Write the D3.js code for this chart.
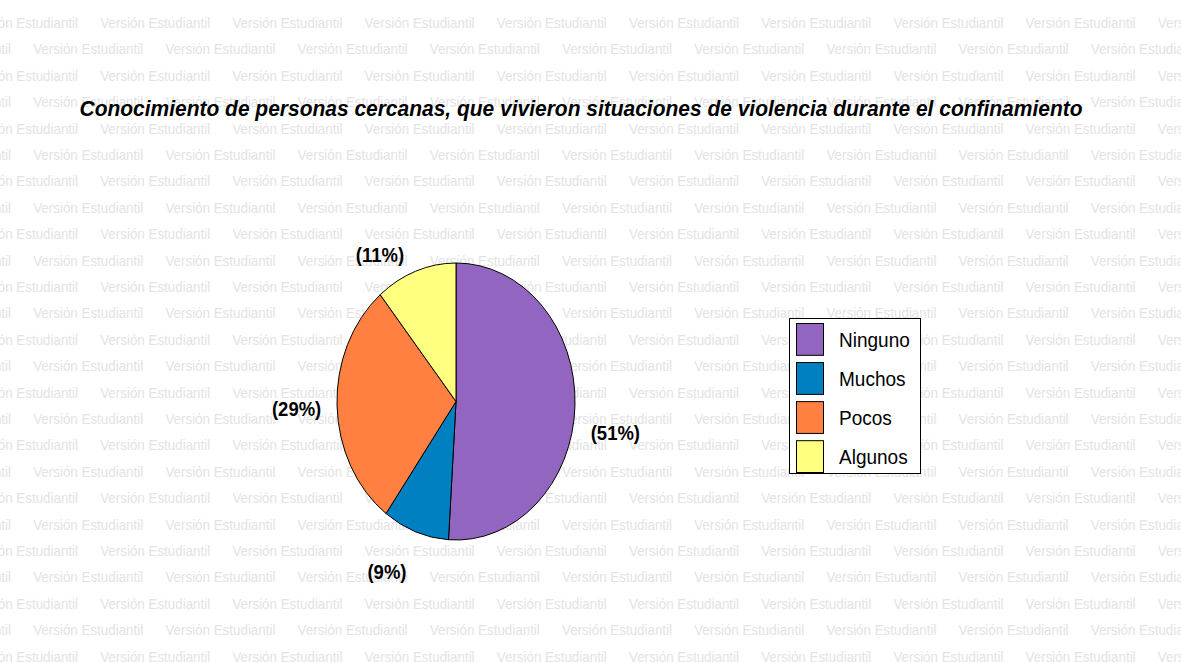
<!DOCTYPE html>
<html>
<head>
<meta charset="utf-8">
<script src="https://cdn.jsdelivr.net/npm/d3@7"></script>
<style>
  html, body { margin: 0; padding: 0; background: #fff; }
  svg { display: block; }
</style>
</head>
<body>
<svg id="chart" width="1181" height="662"></svg>
<script>
// Survey answers and their shares (percent)
const categories = ["Ninguno", "Muchos", "Pocos", "Algunos"];
const shares = [51, 9, 29, 11];
const sliceColors = ["#9266C0", "#0080C0", "#FF8040", "#FFFF80"];
const title = "Conocimiento de personas cercanas, que vivieron situaciones de violencia durante el confinamiento";
const watermark = "Versión Estudiantil";

const W = 1181, H = 662;
const svg = d3.select("#chart");
const FONT = "'Liberation Sans', Arial, sans-serif";

// Background watermark grid
const wm = svg.append("g").attr("class", "watermark");
const rowPitch = 26.4, colPitch = 132.2;
for (let r = 0; r < 25; r++) {
  const y = 28 + r * rowPitch;
  const x0 = (r % 2 === 0) ? -32 : -99;
  for (let x = x0; x < W; x += colPitch) {
    wm.append("text")
      .attr("x", x).attr("y", y)
      .attr("textLength", 110).attr("lengthAdjust", "spacingAndGlyphs")
      .style("font-family", FONT)
      .style("font-size", "15px")
      .style("fill", "#e3e3e3")
      .text(watermark);
  }
}

// Title
svg.append("text")
  .attr("x", 581).attr("y", 116)
  .attr("text-anchor", "middle")
  .attr("textLength", 1003).attr("lengthAdjust", "spacingAndGlyphs")
  .style("font-family", FONT)
  .style("font-weight", "bold").style("font-style", "italic")
  .style("font-size", "22px")
  .style("fill", "#000")
  .text(title);

// Elliptical pie: unit-radius arcs stretched to the ellipse
const cx = 456, cy = 401.5, rx = 119, ry = 138.5;
const pie = d3.pie().sort(null).value(d => d.value);
const data = categories.map((c, i) => ({ name: c, value: shares[i], color: sliceColors[i] }));
const arcs = pie(data);
const arc = d3.arc().innerRadius(0).outerRadius(1);

const pieG = svg.append("g")
  .attr("transform", `translate(${cx},${cy}) scale(${rx},${ry})`);
pieG.selectAll("path")
  .data(arcs)
  .join("path")
  .attr("d", arc)
  .attr("fill", d => d.data.color)
  .attr("stroke", "#000")
  .attr("stroke-width", 1)
  .attr("vector-effect", "non-scaling-stroke");

// Percentage labels around the pie (narrowed slightly)
const labelShift = { Ninguno: [0, 25], Muchos: [-15, 4], Pocos: [0, 1], Algunos: [-22, 18] };
const labels = svg.append("g").selectAll("text")
  .data(arcs)
  .join("text")
  .attr("x", d => {
    const m = (d.startAngle + d.endAngle) / 2;
    return cx + Math.sin(m) * 1.34 * rx + labelShift[d.data.name][0];
  })
  .attr("y", d => {
    const m = (d.startAngle + d.endAngle) / 2;
    return cy - Math.cos(m) * 1.27 * ry + labelShift[d.data.name][1];
  })
  .attr("text-anchor", "middle")
  .attr("dy", "0.36em")
  .style("font-family", FONT)
  .style("font-weight", "bold")
  .style("font-size", "21px")
  .style("fill", "#000")
  .text(d => `(${d.data.value}%)`);
labels.each(function () {
  const len = this.getComputedTextLength();
  d3.select(this).attr("textLength", len * 0.88).attr("lengthAdjust", "spacingAndGlyphs");
});

// Legend
const legX = 789.5, legY = 318.5, legW = 131, legH = 155;
const lg = svg.append("g");
lg.append("rect")
  .attr("x", legX).attr("y", legY).attr("width", legW).attr("height", legH)
  .attr("fill", "#fff").attr("stroke", "#000").attr("stroke-width", 1);
const rowY = d3.scaleBand().domain(categories).range([legY + 3, legY + legH - 2]).paddingInner(0.16);
lg.selectAll("rect.sw")
  .data(data)
  .join("rect")
  .attr("class", "sw")
  .attr("x", 796.5).attr("y", d => rowY(d.name) + 2)
  .attr("width", 27).attr("height", rowY.bandwidth() - 1)
  .attr("fill", d => d.color)
  .attr("stroke", "#000").attr("stroke-width", 1);
const legText = lg.selectAll("text")
  .data(data)
  .join("text")
  .attr("x", 839)
  .attr("y", d => rowY(d.name) + 2 + rowY.bandwidth() / 2)
  .attr("dy", "0.36em")
  .style("font-family", FONT)
  .style("font-size", "20px")
  .style("fill", "#000")
  .text(d => d.name);
legText.each(function () {
  const len = this.getComputedTextLength();
  d3.select(this).attr("textLength", len * 0.95).attr("lengthAdjust", "spacingAndGlyphs");
});
</script>
</body>
</html>
